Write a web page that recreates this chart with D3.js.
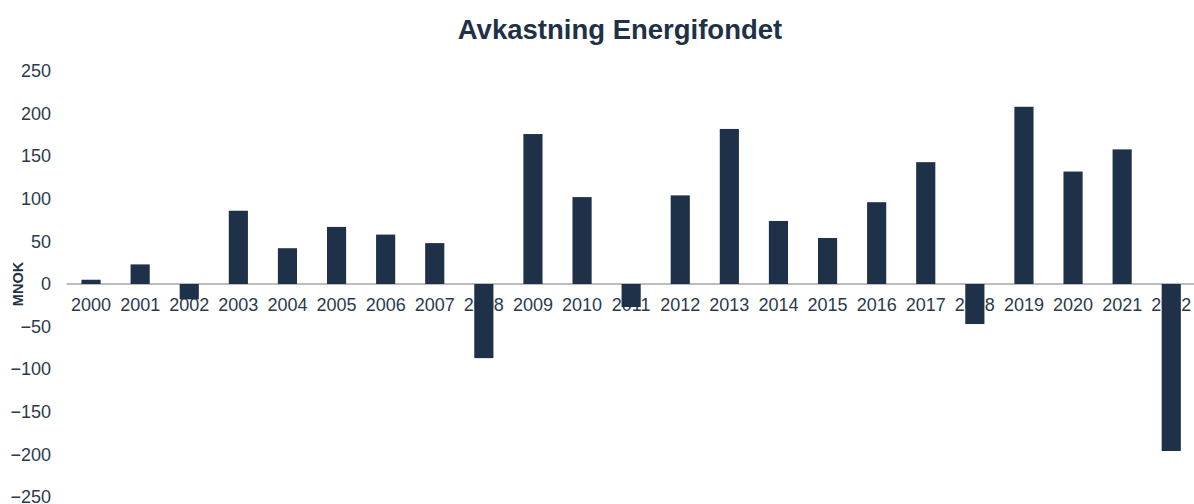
<!DOCTYPE html>
<html>
<head>
<meta charset="utf-8">
<script src="https://cdn.jsdelivr.net/npm/d3@7"></script>
<style>
  html, body { margin: 0; padding: 0; background: #fff; }
  svg { display: block; font-family: "Liberation Sans", Arial, sans-serif; }
</style>
</head>
<body>
<svg id="chart" width="1194" height="504"></svg>
<script>
const years = ["2000","2001","2002","2003","2004","2005","2006","2007","2008","2009","2010","2011","2012","2013","2014","2015","2016","2017","2018","2019","2020","2021","2022"];
const returns = [5, 23, -18, 86, 42, 67, 58, 48, -87, 176, 102, -27, 104, 182, 74, 54, 96, 143, -47, 208, 132, 158, -196];
const yTicks = [250, 200, 150, 100, 50, 0, -50, -100, -150, -200, -250];
const title = "Avkastning Energifondet";
const yLabel = "MNOK";

const svg = d3.select("#chart");
const W = 1194, H = 504;
const plot = { left: 66.5, right: 66.5 + 23 * 49.1, top: 71, bottom: 497 };

const x = d3.scaleBand().domain(years).range([plot.left, plot.right]).paddingInner(0.61).paddingOuter(0.305);
const y = d3.scaleLinear().domain([-250, 250]).range([plot.bottom, plot.top]);

const textColor = "#2b3a4c";
const barColor = "#1e3148";

// title
svg.append("text")
  .attr("x", 620).attr("y", 39)
  .attr("text-anchor", "middle")
  .attr("font-size", 27.5).attr("font-weight", "bold")
  .attr("fill", "#1f3146")
  .text(title);

// y axis labels (no line)
const yAxis = d3.axisLeft(y).tickValues(yTicks).tickSize(0).tickPadding(0);
const gy = svg.append("g").attr("transform", `translate(51,0)`).call(yAxis);
gy.select(".domain").remove();
gy.selectAll("text").attr("font-size", 18).attr("fill", textColor).attr("font-family", "Liberation Sans, Arial, sans-serif");

// y title
svg.append("text")
  .attr("transform", `translate(23,${y(0)}) rotate(-90)`)
  .attr("text-anchor", "middle")
  .attr("font-size", 14.5).attr("font-weight", "bold")
  .attr("fill", "#1f3146")
  .text(yLabel);

// x axis at zero
const xAxis = d3.axisBottom(x).tickSize(0).tickPadding(14);
const gx = svg.append("g").attr("transform", `translate(0,${y(0)})`).call(xAxis);
gx.select(".domain").attr("stroke", "#a6a6a6").attr("stroke-width", 1.3)
  .attr("d", `M${plot.left},0H${W}`);
gx.selectAll("text").attr("font-size", 18).attr("fill", textColor).attr("font-family", "Liberation Sans, Arial, sans-serif");

// bars (drawn over labels)
svg.append("g").selectAll("rect")
  .data(years.map((yr, i) => ({ yr, v: returns[i] })))
  .join("rect")
  .attr("x", d => x(d.yr))
  .attr("width", x.bandwidth())
  .attr("y", d => y(Math.max(0, d.v)))
  .attr("height", d => Math.abs(y(d.v) - y(0)))
  .attr("fill", barColor);
</script>
</body>
</html>
